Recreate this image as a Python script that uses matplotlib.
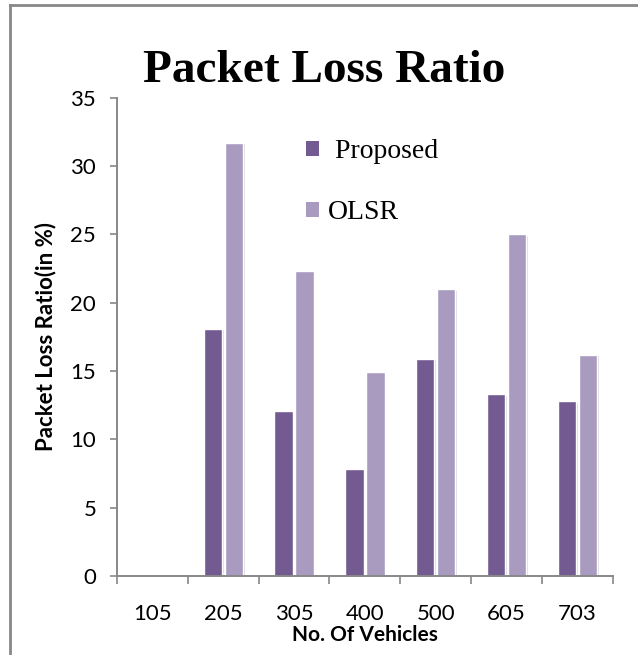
import numpy as np
import matplotlib.pyplot as plt
import matplotlib.patheffects as pe
from matplotlib.lines import Line2D

# data
vehicles = ['105', '205', '305', '400', '500', '605', '703']
proposed = [0, 18.1, 12.1, 7.8, 15.9, 13.3, 12.8]
olsr = [0, 31.7, 22.3, 14.9, 21.0, 25.0, 16.2]

col_prop = '#735a91'
col_olsr = '#a99bbf'

fig = plt.figure(figsize=(6.38, 6.55), dpi=100)
ax = fig.add_axes([0.1834, 0.1206, 0.777, 0.7305])

x = np.arange(len(vehicles))
shadow = [pe.SimplePatchShadow(offset=(1.2, -1.2), shadow_rgbFace='#999999', alpha=0.35), pe.Normal()]
b1 = ax.bar(x - 0.148, proposed, width=0.26, color=col_prop, edgecolor='white', linewidth=1.0, label=' Proposed')
b2 = ax.bar(x + 0.148, olsr, width=0.26, color=col_olsr, edgecolor='white', linewidth=1.0, label='OLSR')
for b in list(b1) + list(b2):
    if b.get_height() > 0:
        b.set_path_effects(shadow)

ax.set_xlim(-0.5, 6.5)
ax.set_ylim(0, 35)
ax.set_yticks(np.arange(0, 36, 5))
ax.set_xticks(x)
ax.set_xticklabels(vehicles)
ax.set_xticks(np.arange(-0.5, 7, 1), minor=True)

for s in ['top', 'right']:
    ax.spines[s].set_visible(False)
for s in ['left', 'bottom']:
    ax.spines[s].set_color('#888888')
    ax.spines[s].set_linewidth(1.4)

ax.tick_params(axis='y', length=5, width=1.2, color='#888888', pad=10, labelsize=16)
ax.tick_params(axis='x', which='major', length=0, pad=20, labelsize=16)
ax.tick_params(axis='x', which='minor', length=6, width=1.2, color='#888888')
for lab in ax.get_xticklabels() + ax.get_yticklabels():
    lab.set_family('Lato')

ax.set_xlabel('No. Of Vehicles', family='Lato', fontweight='bold', fontsize=15, labelpad=1)
ax.set_ylabel('Packet Loss Ratio(in %)', family='Lato', fontweight='bold', fontsize=16, labelpad=10)

fig.text(0.508, 0.875, 'Packet Loss Ratio', family='Liberation Serif', fontweight='bold',
         fontsize=34, ha='center', va='baseline')

leg = ax.legend(loc='upper left', bbox_to_anchor=(0.33, 0.965), frameon=False,
                prop={'family': 'Liberation Serif', 'size': 20},
                handlelength=0.5, handleheight=0.45, handletextpad=0.3, labelspacing=1.3)
for h in leg.legend_handles:
    h.set_edgecolor('none')

# outer gray frame (top and left edges)
fig.add_artist(Line2D([10 / 638, 1], [1 - 5 / 655, 1 - 5 / 655], color='#888888', lw=2, transform=fig.transFigure))
fig.add_artist(Line2D([10 / 638, 10 / 638], [0, 1 - 5 / 655], color='#888888', lw=2, transform=fig.transFigure))

fig.savefig('out.png', dpi=100)
